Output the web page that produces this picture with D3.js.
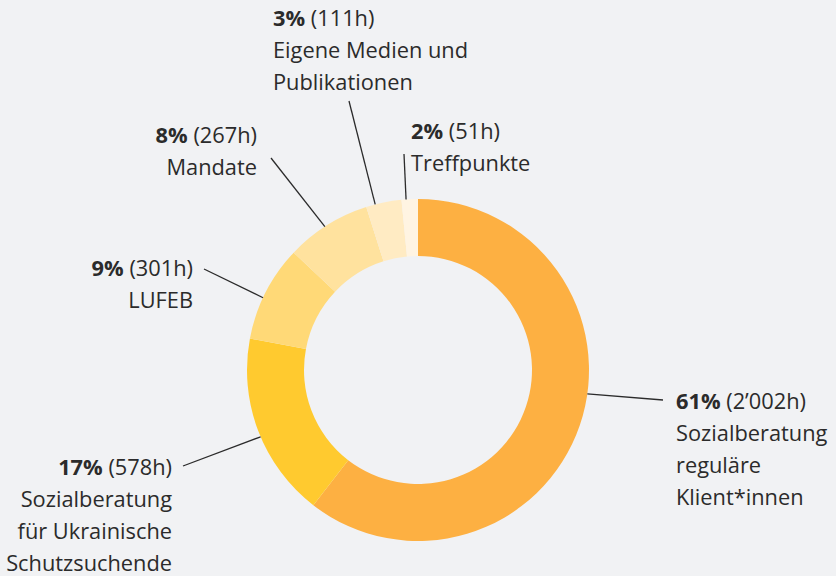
<!DOCTYPE html>
<html>
<head>
<meta charset="utf-8">
<script src="https://cdn.jsdelivr.net/npm/d3@7/dist/d3.min.js"></script>
<style>
  html, body { margin: 0; padding: 0; background: #F1F2F4; }
  svg { display: block; }
  text { font-family: "Open Sans", "Noto Sans", sans-serif; fill: #2b2b2b; }
</style>
</head>
<body>
<svg id="chart" width="836" height="576"></svg>
<script>
// ---- data ----
const categories = [
  ["Sozialberatung", "reguläre", "Klient*innen"],
  ["Sozialberatung", "für Ukrainische", "Schutzsuchende"],
  ["LUFEB"],
  ["Mandate"],
  ["Eigene Medien und", "Publikationen"],
  ["Treffpunkte"]
];
const hours = [2002, 578, 301, 267, 111, 51];
const hourLabels = ["2’002h", "578h", "301h", "267h", "111h", "51h"];
const percentLabels = ["61%", "17%", "9%", "8%", "3%", "2%"];
const colors = ["#FDB042", "#FFCA2F", "#FFD977", "#FFE29E", "#FFEBC3", "#FFF4E2"];

// ---- label layout (annotation placement) ----
const labelLayout = [
  { angle: 98,    end: [663, 400], x: 676, y: 409, anchor: "start" },
  { angle: 247,   end: [183, 466], x: 172, y: 475, anchor: "end" },
  { angle: 295,   end: [204, 269], x: 193, y: 276, anchor: "end" },
  { angle: 327,   end: [271, 158], x: 257, y: 143, anchor: "end" },
  { angle: 345.5, end: [349, 101], x: 273, y: 26,  anchor: "start" },
  { angle: 356,   end: [404, 154], x: 411, y: 139, anchor: "start" }
];

const W = 836, H = 576;
const cx = 418, cy = 370, rOuter = 171, rInner = 114;
const lineH = 32, fontSize = 21.8;

const svg = d3.select("#chart");
svg.append("rect").attr("width", W).attr("height", H).attr("fill", "#F1F2F4");

const pie = d3.pie().sort(null).value(d => d)(hours);
const arc = d3.arc().innerRadius(rInner).outerRadius(rOuter);

const g = svg.append("g").attr("transform", `translate(${cx},${cy})`);
g.selectAll("path.slice")
  .data(pie)
  .join("path")
  .attr("class", "slice")
  .attr("d", arc)
  .attr("fill", (d, i) => colors[i]);

// leader lines
const lines = svg.append("g");
labelLayout.forEach((L, i) => {
  const a = L.angle * Math.PI / 180;
  const x0 = cx + rOuter * Math.sin(a);
  const y0 = cy - rOuter * Math.cos(a);
  lines.append("line")
    .attr("x1", x0).attr("y1", y0)
    .attr("x2", L.end[0]).attr("y2", L.end[1])
    .attr("stroke", "#2b2b2b").attr("stroke-width", 1.3);
});

// labels
const labels = svg.append("g").style("font-size", fontSize + "px");
labelLayout.forEach((L, i) => {
  const t = labels.append("text")
    .attr("x", L.x).attr("y", L.y)
    .attr("text-anchor", L.anchor);
  t.append("tspan").attr("font-weight", "700").text(percentLabels[i]);
  t.append("tspan").text(" (" + hourLabels[i] + ")");
  categories[i].forEach((line, j) => {
    labels.append("text")
      .attr("x", L.x).attr("y", L.y + lineH * (j + 1))
      .attr("text-anchor", L.anchor)
      .text(line);
  });
});
</script>
</body>
</html>
